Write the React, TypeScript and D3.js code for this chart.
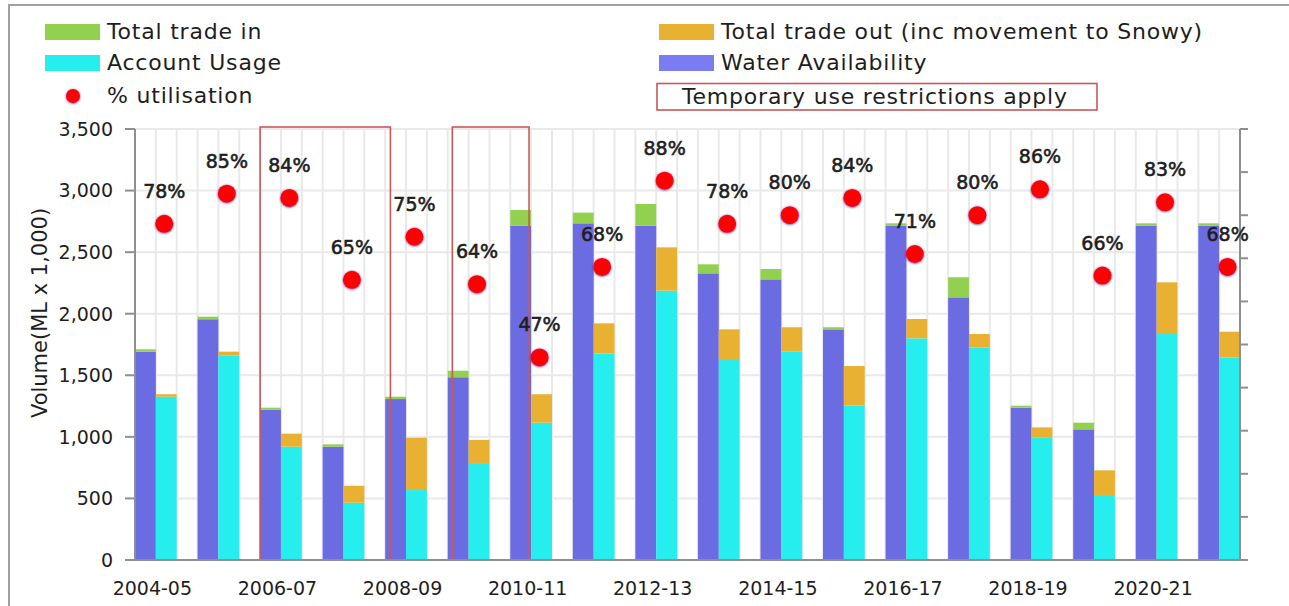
import React from 'react';
import * as d3 from 'd3';

const years = ['2004-05', '2005-06', '2006-07', '2007-08', '2008-09', '2009-10', '2010-11', '2011-12', '2012-13',
  '2013-14', '2014-15', '2015-16', '2016-17', '2017-18', '2018-19', '2019-20', '2020-21', '2021-22'];
// left stack of each year
const waterAvailability = [1692, 1955, 1221, 920, 1307, 1484, 2715, 2734, 2715, 2328, 2279, 1873, 2715, 2133, 1237, 1061, 2715, 2715];
const tradeIn = [19, 21, 16, 19, 19, 53, 127, 87, 176, 73, 84, 17, 19, 163, 16, 54, 19, 19];
// right stack of each year
const accountUsage = [1326, 1659, 920, 465, 568, 780, 1115, 1678, 2187, 1624, 1695, 1256, 1800, 1727, 993, 520, 1835, 1643];
const tradeOut = [20, 33, 106, 138, 425, 195, 231, 244, 352, 249, 195, 319, 157, 108, 84, 208, 420, 211];
const utilisation = [78, 85, 84, 65, 75, 64, 47, 68, 88, 78, 80, 84, 71, 80, 86, 66, 83, 68];
const xTickLabels = ['2004-05', '2006-07', '2008-09', '2010-11', '2012-13', '2014-15', '2016-17', '2018-19', '2020-21'];
const yTicks = [0, 500, 1000, 1500, 2000, 2500, 3000, 3500];
// restriction boxes: first / last year, offsets in bar slots
const restrictions = [
  { from: '2006-07', to: '2007-08', startOff: 0, endOff: 3.25 },
  { from: '2009-10', to: '2010-11', startOff: 0.22, endOff: 0.9 },
];

const C = {
  avail: '#6c6ce2', availLegend: '#7c7cf2', tin: '#92d050', usage: '#27eeee', tout: '#e8b132',
  dot: '#ff0000', box: '#c9585a', grid: '#e9e9e9', axis: '#8f8f8f', text: '#1e1e1e',
};
const FONT = '"DejaVu Sans", sans-serif';

export default function App() {
  const W = 1289, H = 606;
  const margin = { top: 129, right: 49, bottom: 46, left: 135 };
  const x = d3.scaleBand().domain(years).range([margin.left, W - margin.right]).paddingInner(1 / 3).paddingOuter(0);
  const slot = x.bandwidth() / 2;
  const y = d3.scaleLinear().domain([0, 3500]).range([H - margin.bottom, margin.top]);
  const y2 = d3.scaleLinear().domain([0, 1]).range([H - margin.bottom, margin.top]);
  const x0 = margin.left, x1 = W - margin.right, yb = H - margin.bottom;

  const vGrid: number[] = [];
  years.forEach((yr) => [0, 1, 2].forEach((k) => vGrid.push((x(yr) as number) + k * slot)));

  const legend = [
    { label: 'Total trade in', color: C.tin, lx: 45, ly: 24 },
    { label: 'Account Usage', color: C.usage, lx: 45, ly: 55 },
    { label: 'Total trade out (inc movement to Snowy)', color: C.tout, lx: 659, ly: 24 },
    { label: 'Water Availability', color: C.availLegend, lx: 659, ly: 55 },
  ];
  const legendText = { fontSize: 22, letterSpacing: 0.8, fill: C.text };

  return (
    <div style={{ position: 'fixed', left: 0, top: 0 }}>
      <svg width={W} height={H} style={{ display: 'block', background: '#fff' }} fontFamily={FONT}>
        <defs>
          <filter id="dotShadow" x="-50%" y="-50%" width="200%" height="200%">
            <feDropShadow dx="0" dy="0.5" stdDeviation="1.3" floodColor="#3a2a8a" floodOpacity="0.9" />
          </filter>
        </defs>
        <path d={`M9,${H} V5 H${W}`} fill="none" stroke="#a0a0a0" strokeWidth={2} />

        {/* legend */}
        {legend.map((l) => (
          <g key={l.label}>
            <rect x={l.lx} y={l.ly} width={55} height={16} fill={l.color} />
            <text x={l.lx + 62} y={l.ly + 15} {...legendText}>{l.label}</text>
          </g>
        ))}
        <circle cx={73} cy={96} r={7} fill={C.dot} filter="url(#dotShadow)" />
        <text x={107} y={103} {...legendText}>% utilisation</text>
        <rect x={657} y={83.5} width={440} height={26.5} fill="#fff" stroke={C.box} strokeWidth={1.6} />
        <text x={682} y={104} {...legendText}>Temporary use restrictions apply</text>

        {/* grid */}
        {yTicks.filter((t) => t > 0).map((t) => (
          <line key={t} x1={x0} x2={x1} y1={y(t)} y2={y(t)} stroke={C.grid} strokeWidth={2} />
        ))}
        {vGrid.map((v, i) => (
          <line key={i} x1={v} x2={v} y1={margin.top} y2={yb} stroke={C.grid} strokeWidth={2} />
        ))}

        {/* bars */}
        {years.map((yr, i) => {
          const bx = x(yr) as number;
          return (
            <g key={yr}>
              <rect x={bx} width={slot} y={y(waterAvailability[i])} height={yb - y(waterAvailability[i])} fill={C.avail} />
              <rect x={bx} width={slot} y={y(waterAvailability[i] + tradeIn[i])}
                height={y(waterAvailability[i]) - y(waterAvailability[i] + tradeIn[i])} fill={C.tin} />
              <rect x={bx + slot} width={slot} y={y(accountUsage[i])} height={yb - y(accountUsage[i])} fill={C.usage} />
              <rect x={bx + slot} width={slot} y={y(accountUsage[i] + tradeOut[i])}
                height={y(accountUsage[i]) - y(accountUsage[i] + tradeOut[i])} fill={C.tout} />
            </g>
          );
        })}

        {/* restriction boxes */}
        {restrictions.map((r) => (
          <rect key={r.from} x={(x(r.from) as number) + r.startOff * slot} y={y(3500) - 2}
            width={(x(r.to) as number) + r.endOff * slot - ((x(r.from) as number) + r.startOff * slot)}
            height={yb - y(3500) + 2} fill="none" stroke={C.box} strokeWidth={1.6} />
        ))}

        {/* axes */}
        <line x1={x0} x2={x0} y1={margin.top} y2={yb} stroke={C.axis} strokeWidth={2} />
        <line x1={x1} x2={x1} y1={margin.top} y2={yb} stroke={C.axis} strokeWidth={2} />
        <line x1={x0 - 10} x2={x1 + 8} y1={yb} y2={yb} stroke={C.axis} strokeWidth={2} />
        {yTicks.map((t) => (
          <g key={t}>
            <line x1={x0 - 10} x2={x0} y1={y(t)} y2={y(t)} stroke={C.axis} strokeWidth={2} />
            <text x={113} y={y(t)} dy="0.36em" textAnchor="end" fontSize={19} fill={C.text}>{d3.format(',')(t)}</text>
          </g>
        ))}
        {y2.ticks(10).map((t) => (
          <line key={t} x1={x1} x2={x1 + 8} y1={y2(t)} y2={y2(t)} stroke={C.axis} strokeWidth={2} />
        ))}
        {xTickLabels.map((l) => (
          <text key={l} x={(x(l) as number) + slot - 3.5} y={595} textAnchor="middle" fontSize={19} fill={C.text}>{l}</text>
        ))}
        <text transform={`translate(47,313) rotate(-90)`} textAnchor="middle" fontSize={21} fill={C.text}>Volume(ML x 1,000)</text>

        {/* utilisation dots */}
        {years.map((yr, i) => {
          const cx = (x(yr) as number) + slot * 1.5 - 2;
          const cy = y2(utilisation[i] / 100);
          return (
            <g key={yr}>
              <circle cx={cx} cy={cy} r={9} fill={C.dot} filter="url(#dotShadow)" />
              <text x={cx} y={cy - 26} textAnchor="middle" fontSize={19} fill={C.text}
                stroke={C.text} strokeWidth={0.6}>{utilisation[i]}%</text>
            </g>
          );
        })}
      </svg>
    </div>
  );
}
